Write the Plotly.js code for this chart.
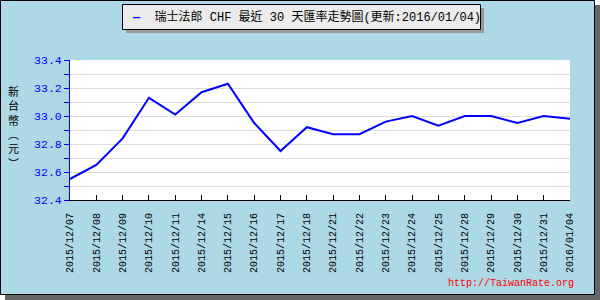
<!DOCTYPE html>
<html>
<head>
<meta charset="utf-8">
<script src="https://cdn.plot.ly/plotly-3.0.1.min.js"></script>
<style>html,body{margin:0;padding:0;background:#fff;}#chart{width:600px;height:300px;}</style>
</head>
<body>
<div id="chart"></div>
<script>
const dates = ['2015/12/07','2015/12/08','2015/12/09','2015/12/10','2015/12/11','2015/12/14','2015/12/15','2015/12/16','2015/12/17','2015/12/18','2015/12/21','2015/12/22','2015/12/23','2015/12/24','2015/12/25','2015/12/28','2015/12/29','2015/12/30','2015/12/31','2016/01/04'];
const rates = [32.55,32.65,32.84,33.13,33.01,33.17,33.23,32.95,32.75,32.92,32.87,32.87,32.96,33.00,32.93,33.00,33.00,32.95,33.00,32.98];
const seriesName = '瑞士法郎 CHF 最近 30 天匯率走勢圖(更新:2016/01/04)';
const yTitleChars = ['新','台','幣','︵','元','︶'];
const watermark = 'http://TaiwanRate.org';

// pixel -> paper helpers (plot area 70..570 x, 60..200 y)
const px = p => (p - 70) / 500;
const py = p => (200 - p) / 140;

const mono = 'Liberation Mono, DejaVu Sans Mono, monospace';
const cjk = 'Liberation Mono, Noto Sans CJK TC, sans-serif';

const trace = {
  x: dates, y: rates, type: 'scatter', mode: 'lines',
  line: {color: '#0000ff', width: 2},
  name: seriesName, hoverinfo: 'x+y'
};

const annotations = [{
  text: yTitleChars.join('<br>'), xref: 'paper', yref: 'paper', x: px(13), y: py(128),
  xanchor: 'center', yanchor: 'middle', showarrow: false,
  font: {family: cjk, size: 11, color: '#000'}
}];
annotations.push({
  text: '<span style="color:#0000ff;font-weight:bold">—</span>  ' + seriesName,
  xref: 'paper', yref: 'paper', x: px(130), y: py(16.5), xanchor: 'left', yanchor: 'middle',
  showarrow: false, font: {family: cjk, size: 12, color: '#000'}
});
annotations.push({
  text: watermark, xref: 'paper', yref: 'paper', x: px(576), y: py(283),
  xanchor: 'right', yanchor: 'middle', showarrow: false,
  font: {family: mono, size: 10, color: '#ff0000'}
});

const shapes = [
  {type: 'rect', xref: 'paper', yref: 'paper', layer: 'below', x0: px(5), x1: px(600), y0: py(300), y1: py(5), fillcolor: '#666666', line: {width: 0}},
  {type: 'rect', xref: 'paper', yref: 'paper', layer: 'below', x0: px(0.5), x1: px(594.5), y0: py(294.5), y1: py(0.5), fillcolor: '#ADD8E6', line: {color: '#000', width: 1}},
  {type: 'rect', xref: 'paper', yref: 'paper', layer: 'below', x0: 0, x1: 1, y0: 0, y1: 1, fillcolor: '#ffffff', line: {width: 0}},
  {type: 'rect', xref: 'paper', yref: 'paper', layer: 'below', x0: px(126), x1: px(484), y0: py(33), y1: py(8), fillcolor: '#999999', line: {width: 0}},
  {type: 'rect', xref: 'paper', yref: 'paper', layer: 'below', x0: px(122.5), x1: px(480.5), y0: py(29.5), y1: py(4.5), fillcolor: '#EBEBEB', line: {color: '#000', width: 1}}
];

const layout = {
  width: 600, height: 300,
  margin: {l: 70, r: 30, t: 60, b: 100, pad: 0},
  paper_bgcolor: '#ffffff', plot_bgcolor: '#ffffff',
  showlegend: false,
  xaxis: {
    type: 'category', range: [0, dates.length - 1], showgrid: false, zeroline: false,
    showline: true, linecolor: '#000', linewidth: 1,
    ticks: 'inside', ticklen: 5, tickcolor: '#000', tickwidth: 1,
    tickangle: -90, ticklabelstandoff: 8,
    tickfont: {family: mono, size: 10, color: '#000'}
  },
  yaxis: {
    range: [32.4, 33.4], tick0: 32.4, dtick: 0.2, tickformat: '.1f',
    showgrid: true, gridcolor: '#dddddd', gridwidth: 1, zeroline: false,
    showline: true, linecolor: '#0000ff', linewidth: 1,
    ticks: 'outside', ticklen: 5, tickcolor: '#0000ff', tickwidth: 1,
    tickfont: {family: mono, size: 11.5, color: '#0000ff'},
    minor: {dtick: 0.1, tick0: 32.4, ticks: 'outside', ticklen: 5, tickcolor: '#0000ff', showgrid: true, gridcolor: '#dddddd', gridwidth: 1}
  },
  shapes: shapes,
  annotations: annotations
};

Plotly.newPlot('chart', [trace], layout, {displayModeBar: false, staticPlot: true});
</script>
</body>
</html>
